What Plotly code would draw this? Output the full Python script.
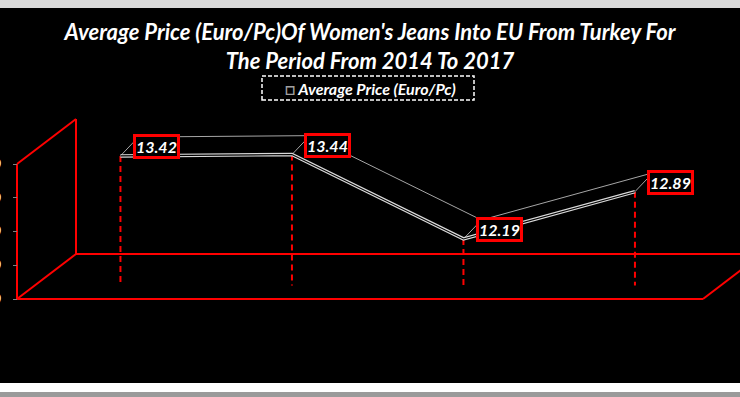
import plotly.graph_objects as go

# ---------------- data ----------------
years = ["2014", "2015", "2016", "2017"]
prices = [13.42, 13.44, 12.19, 12.89]
y_ticks = [11.5, 12.0, 12.5, 13.0, 13.5]
title_text = "Average Price (Euro/Pc)Of Women's Jeans Into EU From Turkey For<br>The Period From 2014 To 2017"
series_name = "Average Price (Euro/Pc)"

# ---------------- layout geometry (pseudo 3D) ----------------
W, H = 740, 397
Y_MIN, Y_MAX = y_ticks[0], y_ticks[-1]
X_MIN, X_MAX = -0.5, len(years) - 0.5
# axis ranges chosen so that the chart is cropped like the reference
XR = [-0.59913, 3.71574]
YR = [10.0481, 15.9296]
DEPTH_X, DEPTH_Y = 0.344, 0.6667          # full depth of the 3D box in data units
SER = 0.3                                  # series plane depth fraction
SX, SY = SER * DEPTH_X, SER * DEPTH_Y
RX, RY = 0.105, 0.28                       # ribbon thickness (depth) in data units

LATO = "Lato, 'DejaVu Sans', sans-serif"
RED = "#ff0000"

fig = go.Figure()

# 3D frame (walls/floor)
fx, fy = [], []
def seg(x0, y0, x1, y1):
    fx.extend([x0, x1, None]); fy.extend([y0, y1, None])
seg(X_MIN, Y_MIN, X_MIN, Y_MAX)
seg(X_MIN + DEPTH_X, Y_MIN + DEPTH_Y, X_MIN + DEPTH_X, Y_MAX + DEPTH_Y)
seg(X_MIN, Y_MAX, X_MIN + DEPTH_X, Y_MAX + DEPTH_Y)
seg(X_MIN, Y_MIN, X_MIN + DEPTH_X, Y_MIN + DEPTH_Y)
seg(X_MIN + DEPTH_X, Y_MIN + DEPTH_Y, X_MAX + DEPTH_X, Y_MIN + DEPTH_Y)
seg(X_MIN, Y_MIN, X_MAX, Y_MIN)
seg(X_MAX, Y_MIN, X_MAX + DEPTH_X, Y_MIN + DEPTH_Y)
fig.add_trace(go.Scatter(x=fx, y=fy, mode="lines", line=dict(color=RED, width=2),
                         hoverinfo="skip", showlegend=False))

idx = list(range(len(years)))

# drop lines
dx, dy = [], []
for i, v in zip(idx, prices):
    dx.extend([i + SX, i + SX, None]); dy.extend([v + SY, Y_MIN + SY, None])
fig.add_trace(go.Scatter(x=dx, y=dy, mode="lines",
                         line=dict(color=RED, width=2, dash="6px,4px"),
                         hoverinfo="skip", showlegend=False))

# ribbon back edge
fig.add_trace(go.Scatter(x=[i + SX + RX for i in idx], y=[v + SY + RY for v in prices],
                         mode="lines", line=dict(color="#a6a6a6", width=1),
                         hoverinfo="skip", showlegend=False))
# ribbon connectors
cx, cy = [], []
for i, v in zip(idx, prices):
    cx.extend([i + SX, i + SX + RX, None]); cy.extend([v + SY, v + SY + RY, None])
fig.add_trace(go.Scatter(x=cx, y=cy, mode="lines", line=dict(color="#a6a6a6", width=1),
                         hoverinfo="skip", showlegend=False))
# ribbon front edge (double line)
fig.add_trace(go.Scatter(x=[i + SX for i in idx], y=[v + SY for v in prices],
                         mode="lines", line=dict(color="#d9d9d9", width=3.5),
                         name=series_name, showlegend=False))
fig.add_trace(go.Scatter(x=[i + SX for i in idx], y=[v + SY for v in prices],
                         mode="lines", line=dict(color="#000000", width=1.1),
                         hoverinfo="skip", showlegend=False))

# data labels
for i, v in zip(idx, prices):
    fig.add_annotation(x=i + SX, y=v + SY, xref="x", yref="y", text=f"{v:.2f}",
                       showarrow=False, xshift=36, yshift=9,
                       font=dict(family=LATO, size=16, color="white", weight="bold", style="italic"),
                       bgcolor="black", bordercolor=RED, borderwidth=3, borderpad=0)

# legend (dashed box + text)
fig.add_shape(type="rect", xref="paper", yref="paper",
              x0=262 / W, x1=474 / W, y0=1 - 100 / H, y1=1 - 76 / H,
              line=dict(color="white", width=1.5, dash="4px,2px"), fillcolor="rgba(0,0,0,0)")
fig.add_annotation(xref="paper", yref="paper", x=370 / W, y=1 - 88 / H,
                   text="<span style='color:#a0a0a0;font-size:17px'>□</span> " + series_name,
                   showarrow=False,
                   font=dict(family=LATO, size=16, color="white", weight="bold", style="italic"),
                   xanchor="center", yanchor="middle")

# screenshot border strips
fig.add_shape(type="rect", xref="paper", yref="paper", x0=0, x1=1, y0=1 - 8 / H, y1=1,
              line=dict(width=0), fillcolor="#d9d9d9", layer="above")
fig.add_shape(type="rect", xref="paper", yref="paper", x0=0, x1=1, y0=0, y1=14 / H,
              line=dict(width=0), fillcolor="#ffffff", layer="above")
fig.add_shape(type="rect", xref="paper", yref="paper", x0=0, x1=1, y0=0, y1=5 / H,
              line=dict(width=0), fillcolor="#9a9a9a", layer="above")

fig.update_layout(
    width=W, height=H,
    margin=dict(l=0, r=0, t=0, b=0, pad=0, autoexpand=False),
    paper_bgcolor="black", plot_bgcolor="black",
    title=dict(text=title_text, x=0.5, xanchor="center", y=1 - 40 / H, yanchor="middle",
               automargin=False,
               font=dict(family=LATO, size=22, color="white", weight="bold", style="italic")),
    xaxis=dict(range=XR, visible=False, showgrid=False, zeroline=False, automargin=False),
    yaxis=dict(range=YR, tickvals=y_ticks, tickformat=".2f", anchor="free", position=17 / W,
               ticks="outside", ticklen=4, tickcolor="#808080", tickwidth=1, automargin=False,
               showline=False, showgrid=False, zeroline=False, ticklabelstandoff=9,
               tickfont=dict(family=LATO, size=14, color="white", weight="bold", style="italic")),
    showlegend=False,
)

fig.write_html("out.html")
